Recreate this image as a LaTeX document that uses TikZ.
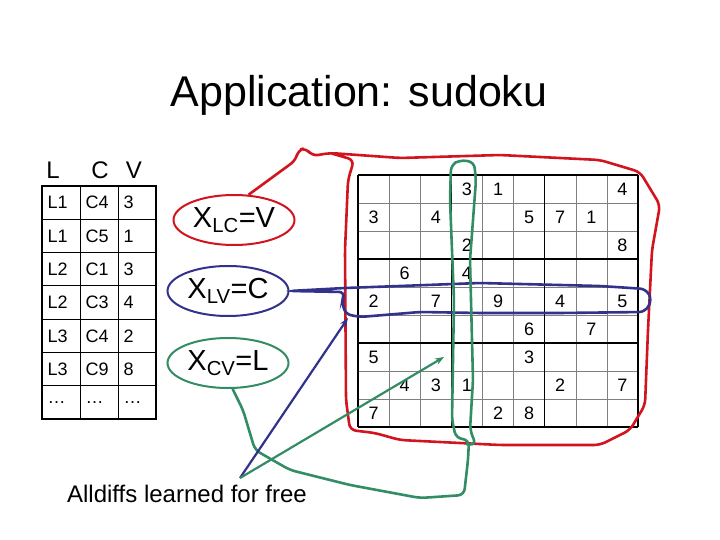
\documentclass[tikz,border=0pt]{standalone}
\usepackage{fontspec}
\setmainfont{Liberation Sans}
\usetikzlibrary{arrows.meta,shapes.geometric}
\tikzset{
  cell/.style={font=\fontsize{18}{18}\selectfont},
  digit/.style={font=\fontsize{18}{18}\selectfont},
  var/.style={draw, ellipse, line width=2pt, minimum width=121pt, minimum height=50pt, inner sep=0pt, font=\fontsize{29}{29}\selectfont},
  hand/.style={line width=2.6pt, rounded corners=6pt},
}
\definecolor{myred}{RGB}{210,20,30}
\definecolor{myblue}{RGB}{50,50,140}
\definecolor{mygreen}{RGB}{50,140,100}
\begin{document}
\begin{tikzpicture}[x=1pt,y=-1pt]
  \useasboundingbox (0,0) rectangle (720,540);
  \node (title) at (359,95) {\fontsize{43}{43}\selectfont Application: sudoku};
  % table
  \node (hl) at (53,170) {\fontsize{24}{24}\selectfont L};
  \node (hc) at (100,170) {\fontsize{24}{24}\selectfont C};
  \node (hv) at (134,170) {\fontsize{24}{24}\selectfont V};
  \draw[line width=1.6pt] (42,186) rectangle (156,419);
  \foreach \y in {219.3,252.6,285.9,319.2,352.5,385.8}
    \draw[line width=1pt] (42,\y) -- (156,\y);
  \draw[line width=1pt] (80,186) -- (80,419);
  \draw[line width=1pt] (118,186) -- (118,419);
  \foreach \l/\c/\v [count=\i] in {L1/C4/3, L1/C5/1, L2/C1/3, L2/C3/4, L3/C4/2, L3/C9/8, \dots/\dots/\dots} {
    \node[cell, anchor=west] at (44,{186+33.3*\i-16.6}) {\l};
    \node[cell, anchor=west] at (82,{186+33.3*\i-16.6}) {\c};
    \node[cell, anchor=west] at (120,{186+33.3*\i-16.6}) {\v};
  }
  % variables
  \node[var, myred, text=black] (xlc) at (234,220) {X\textsubscript{LC}=V};
  \node[var, myblue, text=black] (xlv) at (228,291) {X\textsubscript{LV}=C};
  \node[var, mygreen, text=black] (xcv) at (228,363) {X\textsubscript{CV}=L};
  % sudoku grid
  \foreach \i in {0,...,9} {
    \draw[gray] ({358+31.1*\i},175) -- ({358+31.1*\i},427);
    \draw[gray] (358,{175+28*\i}) -- (638,{175+28*\i});
  }
  \foreach \i in {0,3,6,9} {
    \draw[line width=1.6pt] ({358+31.1*\i},175) -- ({358+31.1*\i},427);
    \draw[line width=1.6pt] (358,{175+28*\i}) -- (638,{175+28*\i});
  }
  \foreach \c/\r/\d in {4/1/3, 5/1/1, 9/1/4, 1/2/3, 3/2/4, 6/2/5, 7/2/7, 8/2/1, 4/3/2, 9/3/8,
      2/4/6, 4/4/4, 1/5/2, 3/5/7, 5/5/9, 7/5/4, 9/5/5, 6/6/6, 8/6/7, 1/7/5, 6/7/3,
      2/8/4, 3/8/3, 4/8/1, 7/8/2, 9/8/7, 1/9/7, 5/9/2, 6/9/8}
    \node[digit] at ({358+31.1*\c-15.5},{175+28*\r-14}) {\d};
  % red loop
  \draw[myred, hand] (xlc.60) -- (296,160) -- (298,150) -- (306,148) -- (312,156)
    -- (330,153) -- (400,158) -- (500,155) -- (600,160) -- (640,172) -- (660,205)
    -- (652,250) -- (648,330) -- (645,405) -- (630,430) -- (600,445) -- (500,445)
    -- (400,440) -- (375,433) -- (350,430) -- (346,400) -- (345,250) -- (348,180) -- (354,160) -- (330,153);
  % blue loop
  \draw[myblue, hand] (xlv.east) -- (345,292) -- (342,300) -- (345,314) -- (360,317)
    -- (420,312) -- (480,313) -- (560,313) -- (645,312) -- (652,300) -- (646,289)
    -- (600,286) -- (480,283) -- (400,286) -- (345,288) -- cycle;
  % green loop
  \draw[mygreen, hand] (xcv.-80) -- (243,410) -- (255,450) -- (290,470) -- (350,485)
    -- (420,498) -- (464,495) -- (468,460) -- (469,440) -- (456,438) -- (452,420)
    -- (454,300) -- (450,200) -- (451,165) -- (460,160) -- (474,162) -- (476,180)
    -- (470,260) -- (473,380) -- (470,430) -- (476,445) -- (466,444);
  % arrows
  \coordinate (src) at (240,478);
  \coordinate (rowtip) at (348,318);
  \coordinate (coltip) at (444,357);
  \draw[myblue, line width=2.2pt, -{Stealth[length=9pt]}] (src) -- (rowtip);
  \draw[mygreen, line width=2.2pt, -{Stealth[length=9pt]}] (src) -- (coltip);
  \node (free) at (187,494) {\fontsize{24}{24}\selectfont Alldiffs learned for free};
\end{tikzpicture}
\end{document}
